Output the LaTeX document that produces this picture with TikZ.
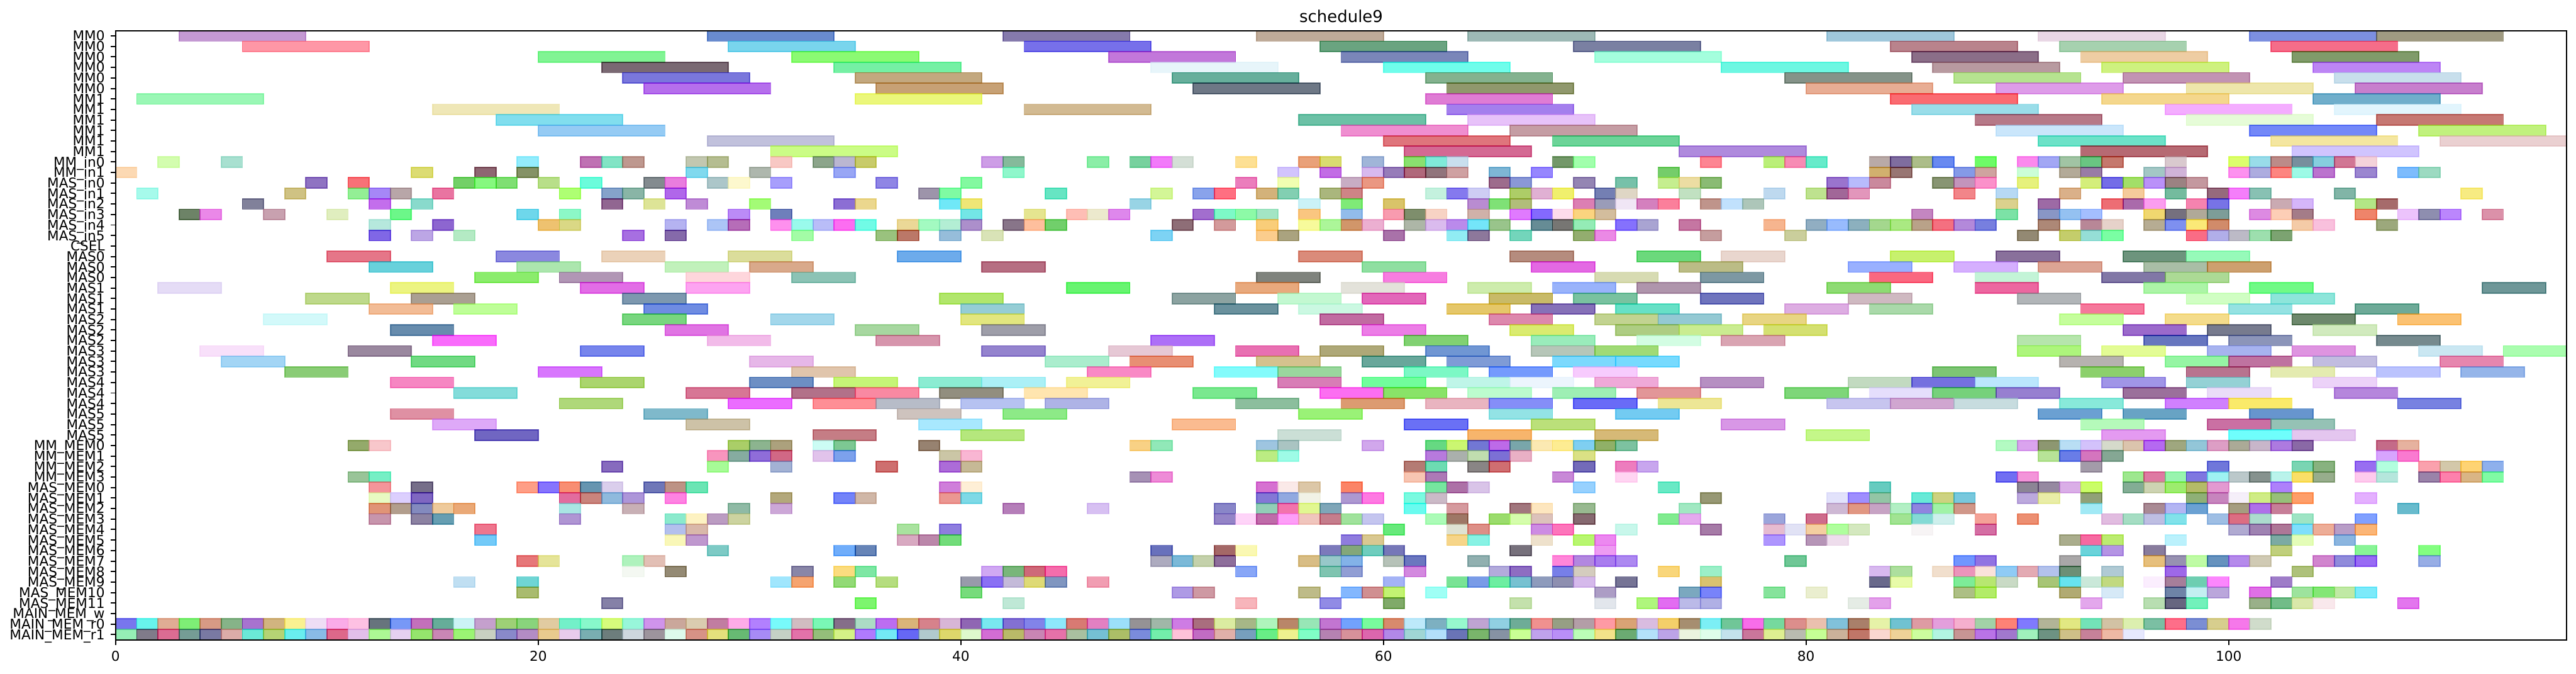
\documentclass[tikz,border=0pt]{standalone}
\usepackage{fontspec}
\setmainfont{DejaVu Sans}

\tikzset{
  taskbar/.style={fill=barcol, draw=barcol, fill opacity=0.6, draw opacity=0.6, line width=0.46pt},
  ticklabel/.style={inner sep=0pt, font=\fontsize{5.5}{5.5}\selectfont},
}

% one row of the schedule: row, duration, start times
\newcommand\taskrow[3]{%
  \foreach \t in {#3} {%
    \pgfmathtruncatemacro\cR{random(0,255)}%
    \pgfmathtruncatemacro\cG{random(0,255)}%
    \pgfmathtruncatemacro\cB{random(0,255)}%
    \definecolor{barcol}{RGB}{\cR,\cG,\cB}%
    \path[taskbar] (\t,#1-0.5) rectangle ++(#2,1);
  }%
}

\begin{document}
\begin{tikzpicture}[x=8.552pt, y=-4.248pt]
    % Define plot dimensions
    \def\tmax{116};
    \def\nrows{57};
    \useasboundingbox (-5.4724,-3.419) rectangle (116.44,60.706);
    \pgfmathsetseed{9}

    % MM0 and MM1 units
    \taskrow{0}{6}{3,28,42,54,64,81,91,101,107}
    \taskrow{1}{6}{6,29,43,57,69,84,92,102}
    \taskrow{2}{6}{20,32,47,58,70,85,93,103}
    \taskrow{3}{6}{23,34,49,60,76,86,94,104}
    \taskrow{4}{6}{24,35,50,62,79,87,95,105}
    \taskrow{5}{6}{25,36,51,63,80,89,98,106}
    \taskrow{6}{6}{1,35,62,84,94,104}
    \taskrow{7}{6}{15,43,63,85,97,105}
    \taskrow{8}{6}{18,56,64,88,98,107}
    \taskrow{9}{6}{20,58,66,89,101,109}
    \taskrow{10}{6}{28,60,68,91,102,110}
    \taskrow{11}{6}{31,61,74,93,103}

    % inputs
    \taskrow{12}{1}{2,5,19,22,23,24,27,28,31,33,34,35,41,42,46,48,49,50,53,56,57,59,61,62,63,68,69,75,78,79,80,83,84,85,86,88,90,91,92,93,94,97,100,101,102,103,104,105,106}
    \taskrow{13}{1}{0,14,17,19,27,30,34,42,55,57,59,60,61,62,63,65,67,73,83,84,87,88,90,92,93,96,97,100,101,102,103,104,106,108,109}
    \taskrow{14}{1}{9,11,16,17,18,20,22,25,26,28,29,31,36,40,53,55,58,59,65,66,69,71,73,74,75,81,82,83,86,87,88,90,93,94,95,96,97,98}
    \taskrow{15}{1}{1,8,11,12,13,15,21,23,24,26,38,39,44,49,51,52,54,55,57,58,62,63,64,66,67,68,70,71,74,78,80,81,82,87,89,92,95,97,99,100,101,105,111}
    \taskrow{16}{1}{6,12,14,23,25,27,30,34,35,39,40,48,56,58,60,64,65,66,69,70,71,72,73,75,76,77,89,91,94,95,96,98,99,102,103,106,107}
    \taskrow{17}{1}{3,4,7,10,13,19,21,29,31,40,43,45,46,47,51,52,53,54,56,58,60,61,62,64,66,67,68,69,70,85,89,91,92,93,96,97,98,99,101,102,103,106,108,109,110,112}
    \taskrow{18}{1}{12,15,20,21,26,28,29,31,32,33,34,35,37,38,39,40,42,43,44,50,52,54,56,57,58,59,61,62,63,64,65,67,68,69,71,72,74,78,80,81,82,83,84,85,86,87,88,91,93,94,96,97,98,99,103,104,107}
    \taskrow{19}{1}{12,14,16,24,26,32,36,37,39,41,49,54,55,60,63,64,66,69,70,75,79,90,92,93,94,98,99,100,101,102}

    % MAS units
    \taskrow{21}{3}{10,18,23,29,37,56,66,72,76,84,89,95,98}
    \taskrow{22}{3}{12,19,26,30,41,59,67,74,82,87,91,96,99}
    \taskrow{23}{3}{17,21,27,32,54,60,70,75,83,88,94,97}
    \taskrow{24}{3}{2,13,22,27,45,53,58,64,68,72,81,88,96,101,112}
    \taskrow{25}{3}{9,14,24,39,50,55,59,65,69,75,82,90,98,102}
    \taskrow{26}{3}{12,16,25,40,52,56,63,67,71,79,83,93,100,106}
    \taskrow{27}{3}{7,24,31,40,57,65,70,73,77,92,97,103,108}
    \taskrow{28}{3}{13,26,35,41,59,66,71,74,78,95,99,104}
    \taskrow{29}{3}{15,28,36,49,61,67,72,76,90,96,100,107}
    \taskrow{30}{3}{4,11,22,41,47,53,57,62,67,70,90,94,99,103,109,113}
    \taskrow{31}{3}{5,14,30,44,48,54,59,63,68,71,92,97,100,104,110}
    \taskrow{32}{3}{8,20,32,46,52,55,61,65,69,86,93,98,102,107,111}
    \taskrow{33}{3}{13,22,30,34,38,41,45,55,59,63,66,70,75,82,85,88,94,98,104}
    \taskrow{34}{3}{16,27,32,35,39,43,51,57,60,64,68,72,79,83,86,89,95,99,105}
    \taskrow{35}{3}{21,29,33,36,40,44,53,58,62,65,69,73,81,84,87,92,97,100,108}
    \taskrow{36}{3}{13,25,37,42,56,65,71,91,95,101}
    \taskrow{37}{3}{15,27,38,50,61,67,76,93,99,102}
    \taskrow{38}{3}{17,33,40,55,64,70,80,94,100,103}

    % memories
    \taskrow{39}{1}{11,12,29,30,31,33,34,38,48,49,54,55,59,62,63,64,65,66,67,68,69,70,71,89,90,91,92,93,94,95,96,97,98,99,100,101,102,103,107,108}
    \taskrow{40}{1}{28,29,30,31,33,34,39,40,54,55,62,63,64,65,66,69,91,92,93,94,107,108}
    \taskrow{41}{1}{23,28,31,36,39,40,61,62,64,65,69,71,72,93,99,103,104,106,107,109,110,111,112}
    \taskrow{42}{1}{11,12,48,49,61,62,68,71,89,90,95,96,97,98,99,100,101,102,103,104,106,107,109,110,111,112}
    \taskrow{43}{1}{12,14,19,20,21,22,23,25,26,27,39,40,54,55,56,58,62,63,64,69,73,83,90,91,92,93,95,96,97,98,99,102}
    \taskrow{44}{1}{12,13,14,21,22,23,24,26,31,34,35,39,40,54,55,56,58,59,61,62,75,81,82,83,85,86,87,90,91,93,98,99,100,101,102,103,106}
    \taskrow{45}{1}{12,13,14,15,16,21,24,29,31,42,46,52,54,55,56,57,61,63,66,67,69,74,81,82,83,84,85,86,87,93,96,97,98,100,101,102,108}
    \taskrow{46}{1}{12,14,15,21,26,27,28,29,52,53,54,55,56,57,58,59,62,63,65,66,67,69,73,74,78,80,84,85,86,88,90,94,95,96,97,99,100,101,103,106}
    \taskrow{47}{1}{17,26,27,37,39,60,63,64,67,68,71,75,78,79,80,81,82,85,88,100,101,102,103,104,105,106}
    \taskrow{48}{1}{17,26,27,37,38,39,58,59,63,64,67,69,70,78,80,81,92,93,94,97,102,103,105}
    \taskrow{49}{1}{28,34,35,49,52,53,57,58,59,60,66,70,93,94,96,102,106,109}
    \taskrow{50}{1}{19,20,24,25,49,50,51,52,56,57,58,60,61,64,68,69,70,71,79,87,88,92,96,97,98,99,100,101,104,105,106,109}
    \taskrow{51}{1}{24,26,32,34,35,41,42,43,44,53,57,58,61,65,66,68,69,73,75,83,84,86,87,88,89,90,91,92,94,97,103}
    \taskrow{52}{1}{16,19,31,32,34,36,40,41,42,43,44,46,60,63,64,65,66,67,68,69,71,75,83,84,87,88,89,91,92,93,94,96,97,98,99,102}
    \taskrow{53}{1}{19,40,50,51,56,58,59,60,62,70,74,75,78,80,87,88,92,94,97,98,99,101,103,104,105,106}
    \taskrow{54}{1}{23,35,42,53,57,60,66,70,72,73,74,75,82,83,93,96,97,98,101,102,103,104,108}
    \taskrow{56}{1}{0,...,101}
    \taskrow{57}{1}{0,...,95}

    % axes frame
    \draw[line width=0.55pt] (0,-0.5) rectangle (\tmax,\nrows+0.5);

    % y ticks and unit names
    \foreach \lab [count=\r from 0] in {MM0,MM0,MM0,MM0,MM0,MM0,MM1,MM1,MM1,MM1,MM1,MM1,
        MM\_in0,MM\_in1,MAS\_in0,MAS\_in1,MAS\_in2,MAS\_in3,MAS\_in4,MAS\_in5,CSEL,
        MAS0,MAS0,MAS0,MAS1,MAS1,MAS1,MAS2,MAS2,MAS2,MAS3,MAS3,MAS3,MAS4,MAS4,MAS4,MAS5,MAS5,MAS5,
        MM\_MEM0,MM\_MEM1,MM\_MEM2,MM\_MEM3,
        MAS\_MEM0,MAS\_MEM1,MAS\_MEM2,MAS\_MEM3,MAS\_MEM4,MAS\_MEM5,MAS\_MEM6,MAS\_MEM7,MAS\_MEM8,MAS\_MEM9,MAS\_MEM10,MAS\_MEM11,
        MAIN\_MEM\_w,MAIN\_MEM\_r0,MAIN\_MEM\_r1} {
        \draw[line width=0.5pt] (0,\r) -- (-0.234,\r);
        \node[ticklabel, anchor=base east] (ylab\r) at (-0.491,\r+0.47) {\lab};
    }

    % x ticks
    \foreach \x in {0,20,...,100} {
        \draw[line width=0.5pt] (\x,\nrows+0.5) -- (\x,\nrows+0.97);
        \node[ticklabel, anchor=base] (xlab\x) at (\x,59.53) {\x};
    }

    % title
    \node[inner sep=0pt, font=\fontsize{6.6}{6.6}\selectfont] (title) at (\tmax/2,-1.865) {schedule9};
\end{tikzpicture}
\end{document}
